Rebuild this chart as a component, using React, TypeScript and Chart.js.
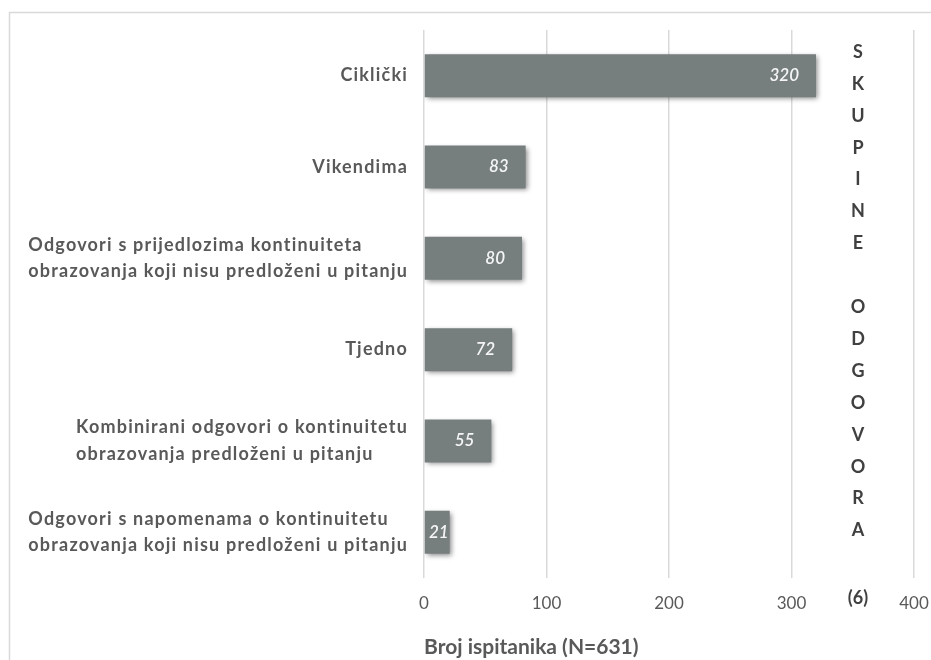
import React, { useEffect, useRef } from "react";
import { Chart, registerables } from "chart.js";

Chart.register(...registerables);

const categories: string[][] = [
  ["Ciklički"],
  ["Vikendima"],
  ["Odgovori s prijedlozima kontinuiteta", "obrazovanja koji nisu predloženi u pitanju"],
  ["Tjedno"],
  ["Kombinirani odgovori o kontinuitetu", "obrazovanja predloženi u pitanju"],
  ["Odgovori s napomenama o kontinuitetu", "obrazovanja koji nisu predloženi u pitanju"],
];
const values: number[] = [320, 83, 80, 72, 55, 21];
const xTicks: number[] = [0, 100, 200, 300, 400];
const xTitle = "Broj ispitanika (N=631)";
const sideTitle = "SKUPINE ODGOVORA";
const sideNote = "(6)";

const FONT = "Lato, 'Open Sans', sans-serif";
const BAR = "#767e7e";
const TEXT = "#595959";

const customPlugin = {
  id: "custom",
  beforeDraw(chart: any) {
    const { ctx } = chart;
    ctx.save();
    ctx.strokeStyle = "#d9d9d9";
    ctx.lineWidth = 1.5;
    ctx.beginPath();
    ctx.moveTo(9.5, 700);
    ctx.lineTo(9.5, 12.5);
    ctx.lineTo(1000, 12.5);
    ctx.stroke();
    ctx.restore();
  },
  beforeDatasetsDraw(chart: any) {
    const { ctx } = chart;
    ctx.save();
    ctx.shadowColor = "rgba(0,0,0,0.45)";
    ctx.shadowBlur = 5;
    ctx.shadowOffsetX = 2;
    ctx.shadowOffsetY = 2;
  },
  afterDatasetsDraw(chart: any) {
    chart.ctx.restore();
  },
  afterDraw(chart: any) {
    const { ctx } = chart;
    const yScale = chart.scales.y;
    const xScale = chart.scales.x;
    ctx.save();
    // category labels: block right-aligned, lines left-aligned
    ctx.font = `bold 18px ${FONT}`;
    (ctx as any).letterSpacing = "1.2px";
    ctx.fillStyle = TEXT;
    ctx.textBaseline = "middle";
    ctx.textAlign = "left";
    const lineH = 26.7;
    const rightEdge = chart.chartArea.left - 16;
    categories.forEach((lines, i) => {
      const cy = yScale.getPixelForTick(i);
      const w = Math.max(...lines.map((l) => ctx.measureText(l).width));
      const x0 = rightEdge - w;
      const y0 = cy - ((lines.length - 1) * lineH) / 2;
      lines.forEach((l, j) => ctx.fillText(l, x0, y0 + j * lineH));
    });
    (ctx as any).letterSpacing = "0px";
    // value labels
    ctx.font = `italic 600 17px ${FONT}`;
    ctx.fillStyle = "#f5f5f5";
    ctx.textAlign = "right";
    const meta = chart.getDatasetMeta(0);
    meta.data.forEach((bar: any, i: number) => {
      const txt = String(values[i]);
      const w = ctx.measureText(txt).width;
      const base = xScale.getPixelForValue(0);
      const xr = Math.max(bar.x - 17, base + 5 + w);
      ctx.fillText(txt, xr, bar.y);
    });
    // side title
    ctx.font = `bold 18px ${FONT}`;
    ctx.fillStyle = "#404040";
    ctx.textAlign = "center";
    const sx = 858;
    const step = 31.9;
    const top = 52;
    sideTitle.split("").forEach((ch, i) => {
      if (ch !== " ") ctx.fillText(ch, sx, top + i * step);
    });
    ctx.fillText(sideNote, sx, 598);
    ctx.restore();
  },
};

export default function App() {
  const ref = useRef<HTMLCanvasElement | null>(null);
  useEffect(() => {
    if (!ref.current) return;
    const chart = new Chart(ref.current, {
      type: "bar",
      data: {
        labels: categories.map((c) => c.join(" ")),
        datasets: [
          {
            data: values,
            backgroundColor: BAR,
            borderWidth: 0,
            categoryPercentage: 0.94,
            barPercentage: 0.5,
          },
        ],
      },
      options: {
        indexAxis: "y",
        responsive: false,
        animation: false,
        layout: { padding: { top: 30, right: 17, left: 0, bottom: 0 } },
        plugins: { legend: { display: false }, tooltip: { enabled: false } },
        scales: {
          x: {
            min: 0,
            max: 400,
            afterBuildTicks(scale: any) {
              scale.ticks = xTicks.map((v) => ({ value: v }));
            },
            afterFit(scale: any) {
              scale.height = 82;
              scale.paddingLeft = 0;
              scale.paddingRight = 0;
            },
            grid: { color: "#d9d9d9", lineWidth: 1.5, drawTicks: false },
            border: { display: false },
            ticks: {
              color: TEXT,
              font: { family: FONT, size: 17 },
              padding: 15,
              maxRotation: 0,
            },
            title: {
              display: true,
              text: xTitle,
              align: "start",
              color: TEXT,
              font: { family: FONT, size: 21, weight: "bold" },
              padding: { top: 0, bottom: 0 },
            },
          },
          y: {
            afterFit(scale: any) {
              scale.width = 424;
              scale.paddingTop = 0;
              scale.paddingBottom = 0;
            },
            grid: { display: false },
            border: { display: false },
            ticks: { display: false },
          },
        },
      },
      plugins: [customPlugin],
    });
    return () => chart.destroy();
  }, []);
  return (
    <div style={{ position: "fixed", left: 0, top: 0, width: 931, height: 660, background: "#fff" }}>
      <canvas ref={ref} width={931} height={660} />
    </div>
  );
}
